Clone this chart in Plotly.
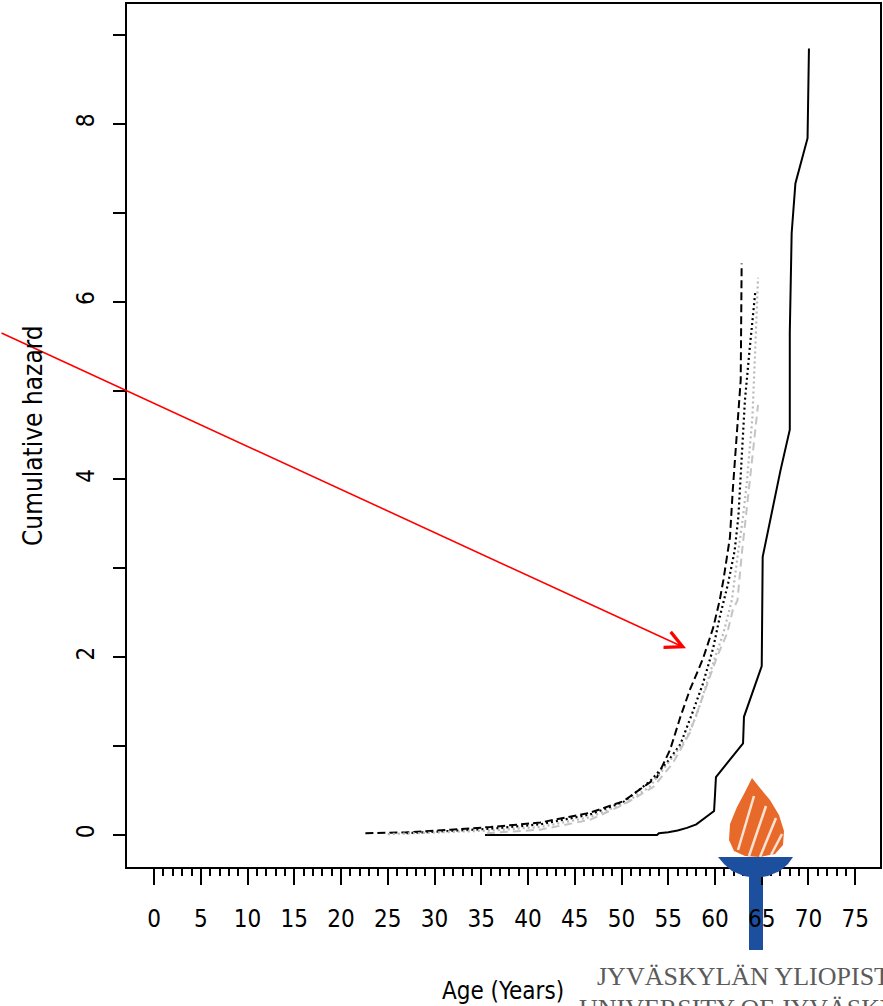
import plotly.graph_objects as go

# ---------------- data ----------------
solid_age = [35.4, 53.8, 54.0, 55.0, 56.0, 57.0, 58.0, 59.0, 59.9, 60.0, 60.1, 61.0, 62.0, 63.0, 63.1,
             64.0, 65.0, 65.1, 66.0, 67.0, 68.0, 68.0, 68.2, 68.6, 69.9, 70.05]
solid_haz = [0.0, 0.0, 0.02, 0.03, 0.05, 0.08, 0.12, 0.2, 0.27, 0.45, 0.65, 0.77, 0.9, 1.03, 1.33,
             1.6, 1.9, 3.13, 3.6, 4.1, 4.56, 5.65, 6.77, 7.33, 7.84, 8.85]

bdash_age = [22.6, 27.0, 31.7, 36.0, 41.3, 46.6, 50.2, 52.0, 53.8, 55.2, 56.3, 57.3, 58.7, 59.8,
             60.5, 60.9, 61.6, 61.9, 62.4, 62.75, 62.85]
bdash_haz = [0.02, 0.03, 0.06, 0.09, 0.14, 0.25, 0.38, 0.52, 0.65, 0.96, 1.33, 1.63, 1.98, 2.33,
             2.64, 2.87, 3.35, 3.88, 4.63, 5.12, 6.43]

bdot_age = [27.0, 31.0, 36.0, 41.3, 46.6, 50.2, 53.0, 54.9, 56.3, 57.6, 58.7, 59.8, 60.5, 61.4,
            62.1, 62.5, 62.9, 63.2, 63.7, 64.3]
bdot_haz = [0.02, 0.04, 0.07, 0.12, 0.23, 0.37, 0.6, 0.82, 1.02, 1.38, 1.7, 2.1, 2.45, 2.83,
            3.2, 3.58, 4.33, 4.89, 5.46, 6.1]

gdot_age = [25.0, 30.0, 36.0, 41.3, 46.6, 50.2, 53.0, 55.5, 57.0, 58.1, 59.1, 60.0, 60.9, 61.8,
            62.5, 63.0, 63.4, 64.0, 64.3, 64.6]
gdot_haz = [0.01, 0.03, 0.05, 0.09, 0.2, 0.35, 0.54, 0.88, 1.1, 1.37, 1.71, 2.0, 2.27, 2.64,
            3.2, 3.58, 3.96, 4.7, 5.46, 6.27]

gdash_age = [35.6, 41.3, 46.6, 50.2, 53.4, 55.5, 57.3, 58.7, 60.2, 61.3, 61.9, 62.4, 62.9, 63.5,
             64.1, 64.6]
gdash_haz = [0.02, 0.06, 0.17, 0.34, 0.54, 0.81, 1.15, 1.55, 2.0, 2.27, 2.53, 2.64, 3.2, 3.77,
             4.33, 4.84]

x_major = list(range(0, 80, 5))
x_minor = [v for v in range(0, 76) if v % 5 != 0]
y_ticks = list(range(0, 10))
y_labels = [str(v) if v % 2 == 0 else "" for v in y_ticks]

arrow_head = (56.9, 2.10)

# ---------------- figure ----------------
W, H = 883, 1006
ML, MR, MT, MB = 127, 3, 4, 139
PW, PH = W - ML - MR, H - MT - MB

FONT = "DejaVu Sans Condensed, Liberation Sans Narrow, Arial Narrow, Liberation Sans, sans-serif"

fig = go.Figure()

def add_line(x, y, color, dash, width=2):
    fig.add_trace(go.Scatter(x=x, y=y, mode="lines",
                             line=dict(color=color, dash=dash, width=width),
                             showlegend=False, hoverinfo="skip"))

add_line(solid_age, solid_haz, "black", "solid", 2)
add_line(bdash_age, bdash_haz, "black", "8px,4px", 2)
add_line(bdot_age, bdot_haz, "black", "2px,3px", 2.2)
add_line(gdot_age, gdot_haz, "#b8b8b8", "2px,3px", 2.2)
add_line(gdash_age, gdash_haz, "#c4c4c4", "8px,5px", 2)

fig.update_xaxes(range=[-2.9, 77.65], showline=True, mirror=True, linecolor="black", linewidth=2,
                 showgrid=False, zeroline=False,
                 tickmode="array", tickvals=x_major, ticktext=[str(v) for v in x_major],
                 ticks="outside", ticklen=16, tickwidth=2, tickcolor="black",
                 ticklabelstandoff=13,
                 tickfont=dict(family=FONT, size=24, color="black"),
                 minor=dict(tickmode="array", tickvals=x_minor, ticks="outside", ticklen=7,
                            tickwidth=1.5, tickcolor="black", showgrid=False))
fig.update_yaxes(range=[-0.36, 9.35], showline=True, mirror=True, linecolor="black", linewidth=2,
                 showgrid=False, zeroline=False,
                 tickmode="array", tickvals=y_ticks, ticktext=y_labels,
                 ticks="outside", ticklen=12, tickwidth=2, tickcolor="black",
                 tickangle=-90, ticklabelstandoff=9,
                 tickfont=dict(family=FONT, size=24, color="black"))

def px2paper(px, py):
    return (px - ML) / PW, (H - MB - py) / PH

def path_from(points, close=True):
    s = ""
    for i, (px, py) in enumerate(points):
        xx, yy = px2paper(px, py)
        s += ("M" if i == 0 else "L") + f"{xx:.5f},{yy:.5f} "
    return s + ("Z" if close else "")

shapes = []
BLUE = "#1d4f9f"
ORANGE = "#e86a2b"
# logo: stem (under the tick labels)
x0, y0 = px2paper(749, 877)
x1, y1 = px2paper(763, 950)
shapes.append(dict(type="rect", xref="paper", yref="paper", x0=x0, y0=y0, x1=x1, y1=y1,
                   fillcolor=BLUE, line=dict(width=0), layer="below"))
# logo: flame
flame = [(752, 778), (760, 788), (770, 800), (779, 815), (784, 831), (783, 845), (775, 854),
         (760, 857), (745, 856), (734, 851), (729, 840), (730, 824), (737, 807), (745, 792)]
shapes.append(dict(type="path", xref="paper", yref="paper", path=path_from(flame),
                   fillcolor=ORANGE, line=dict(width=0), layer="above"))
for (a, b) in [((738, 850), (754, 796)), ((749, 856), (766, 806)), ((760, 857), (776, 818)),
               ((771, 855), (782, 834))]:
    shapes.append(dict(type="path", xref="paper", yref="paper", path=path_from([a, b], close=False),
                       line=dict(color="#fbe3d3", width=2.5), layer="above"))
# bowl
bowl = [(718, 857), (793, 857), (788, 864), (780, 871), (768, 876), (756, 878), (744, 876),
        (732, 871), (724, 864)]
shapes.append(dict(type="path", xref="paper", yref="paper", path=path_from(bowl),
                   fillcolor=BLUE, line=dict(width=0), layer="above"))
fig.update_layout(shapes=shapes)

annotations = []
# red arrow
annotations.append(dict(x=arrow_head[0], y=arrow_head[1], xref="x", yref="y", text="",
                        showarrow=True, ax=-705, ay=-316, axref="pixel", ayref="pixel",
                        arrowcolor="#ff0000", arrowwidth=1.6, arrowhead=5, arrowsize=2.1,
                        standoff=0))
# axis titles
tx, ty = px2paper(503, 991)
annotations.append(dict(x=tx, y=ty, xref="paper", yref="paper", text="Age (Years)",
                        showarrow=False, xanchor="center", yanchor="middle",
                        font=dict(family=FONT, size=24, color="black")))
tx, ty = px2paper(33, 436)
annotations.append(dict(x=tx, y=ty, xref="paper", yref="paper", text="Cumulative hazard",
                        showarrow=False, xanchor="center", yanchor="middle", textangle=-90,
                        font=dict(family=FONT, size=26, color="black")))
# logo text
tx, ty = px2paper(595, 976)
annotations.append(dict(x=tx, y=ty, xref="paper", yref="paper", text="JYVÄSKYLÄN YLIOPISTO",
                        showarrow=False, xanchor="left", yanchor="middle",
                        font=dict(family="Liberation Serif, Times New Roman, serif", size=26,
                                  color="#5b5b5b")))
tx, ty = px2paper(577, 1008)
annotations.append(dict(x=tx, y=ty, xref="paper", yref="paper", text="UNIVERSITY OF JYVÄSKYLÄ",
                        showarrow=False, xanchor="left", yanchor="middle",
                        font=dict(family="Liberation Serif, Times New Roman, serif", size=26,
                                  color="#5b5b5b")))

fig.update_layout(width=W, height=H, margin=dict(l=ML, r=MR, t=MT, b=MB, autoexpand=False),
                  plot_bgcolor="white", paper_bgcolor="white", annotations=annotations)

fig.write_html("out.html", config={"displayModeBar": False},
               post_script="document.body.style.margin='0';document.body.style.padding='0';")
